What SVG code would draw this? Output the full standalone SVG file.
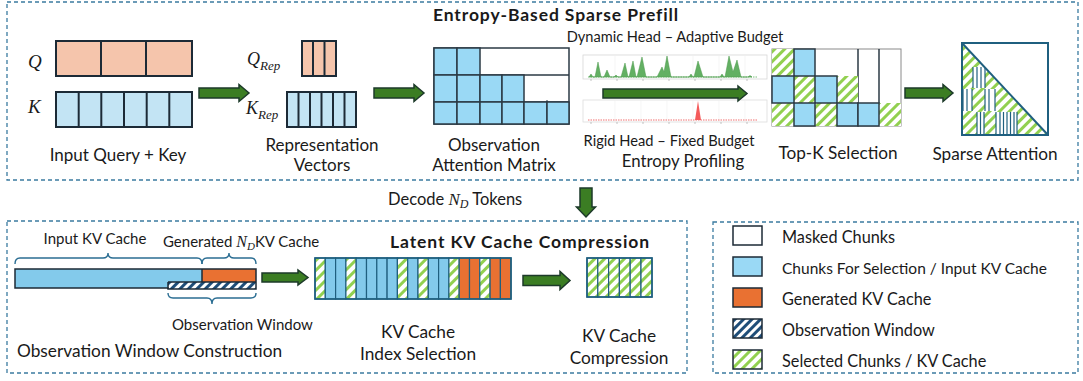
<svg xmlns="http://www.w3.org/2000/svg" width="1083" height="381" viewBox="0 0 1083 381">
  <style>
    .t { font-family: Lato, "Open Sans", sans-serif; fill: #1a1a1a; }
    .b { font-weight: bold; letter-spacing: 0.9px; }
    .m { font-family: "Liberation Serif", "DejaVu Serif", serif; font-style: italic; fill: #1a1a1a; }
    .frame { fill: none; stroke: #3b7ba0; stroke-width: 1.3; stroke-dasharray: 4 3; }
    .arr { fill: #3b7d23; stroke: #1d3a2a; stroke-width: 1.5; stroke-linejoin: miter; }
    .cell { stroke: #1c2a36; stroke-width: 2; }
    .blk { stroke: #2b3a44; stroke-width: 1.5; }
    .kv { stroke: #1f5f7f; stroke-width: 1.2; }
    .brk { fill: none; stroke: #2b6e93; stroke-width: 1.4; }
    .vs { stroke: #1f5f7f; stroke-width: 1.2; }
  </style>
  <defs>
    <pattern id="hatchG" width="7" height="7" patternUnits="userSpaceOnUse" patternTransform="rotate(45)">
      <rect width="7" height="7" fill="#ffffff"/>
      <rect width="3" height="7" fill="#92d050"/>
    </pattern>
    <pattern id="hatchN" width="6" height="6" patternUnits="userSpaceOnUse" patternTransform="rotate(45)">
      <rect width="6" height="6" fill="#ffffff"/>
      <rect width="3" height="6" fill="#1f4e79"/>
    </pattern>
    <clipPath id="lowerTri">
      <polygon points="962,43 962,135 1048,135"/>
    </clipPath>
  </defs>

  <!-- frames -->
  <g id="frames">
    <rect class="frame" x="7" y="2" width="1071" height="178"/>
    <rect class="frame" x="7" y="221" width="680" height="152"/>
    <rect class="frame" x="713" y="222" width="365" height="151"/>
  </g>

  <text class="t b" x="556" y="21" font-size="17.5" text-anchor="middle">Entropy-Based Sparse Prefill</text>

  <!-- input query + key -->
  <g id="input-qk">
    <text class="m" x="28" y="68" font-size="19">Q</text>
    <text class="m" x="28" y="113" font-size="19">K</text>
    <rect class="cell" x="56" y="41" width="136" height="35" fill="#f5c5ac"/>
    <line class="cell" x1="101" y1="41" x2="101" y2="76"/>
    <line class="cell" x1="146" y1="41" x2="146" y2="76"/>
    <rect class="cell" x="56" y="92" width="136" height="35" fill="#c3e4f4"/>
    <line class="cell" x1="78.7" y1="92" x2="78.7" y2="127"/>
    <line class="cell" x1="101.3" y1="92" x2="101.3" y2="127"/>
    <line class="cell" x1="124" y1="92" x2="124" y2="127"/>
    <line class="cell" x1="146.7" y1="92" x2="146.7" y2="127"/>
    <line class="cell" x1="169.3" y1="92" x2="169.3" y2="127"/>
    <text class="t" x="118" y="161" font-size="17" text-anchor="middle">Input Query + Key</text>
  </g>

  <!-- representation vectors -->
  <g id="rep-vectors">
    <text class="m" x="247" y="65" font-size="18">Q<tspan font-size="13" dy="5">Rep</tspan></text>
    <text class="m" x="246" y="114" font-size="18">K<tspan font-size="13" dy="5">Rep</tspan></text>
    <rect class="cell" x="302" y="41" width="34" height="35" fill="#f5c5ac"/>
    <line class="cell" x1="313" y1="41" x2="313" y2="76"/>
    <line class="cell" x1="324.5" y1="41" x2="324.5" y2="76"/>
    <rect class="cell" x="287" y="92" width="69" height="35" fill="#c3e4f4"/>
    <line class="cell" x1="298.5" y1="92" x2="298.5" y2="127"/>
    <line class="cell" x1="310" y1="92" x2="310" y2="127"/>
    <line class="cell" x1="321.5" y1="92" x2="321.5" y2="127"/>
    <line class="cell" x1="333" y1="92" x2="333" y2="127"/>
    <line class="cell" x1="344.5" y1="92" x2="344.5" y2="127"/>
    <text class="t" x="322" y="151" font-size="17" text-anchor="middle">Representation</text>
    <text class="t" x="322" y="171" font-size="17" text-anchor="middle">Vectors</text>
  </g>

  <!-- observation attention matrix -->
  <g id="obs-attn">
    <rect x="434" y="48" width="135" height="76" fill="#ffffff" stroke="#2b3a44" stroke-width="1.5"/>
    <line x1="480" y1="75" x2="569" y2="75" stroke="#2b3a44" stroke-width="1.5"/>
    <line x1="524" y1="102" x2="569" y2="102" stroke="#2b3a44" stroke-width="1.5"/>
    <line x1="547" y1="100" x2="547" y2="104" stroke="#2b3a44" stroke-width="1"/>
    <g fill="#9ad9f5" class="blk">
      <rect x="434" y="48" width="23" height="27"/>
      <rect x="457" y="48" width="23" height="27"/>
      <rect x="434" y="75" width="23" height="27"/>
      <rect x="457" y="75" width="23" height="27"/>
      <rect x="480" y="75" width="22" height="27"/>
      <rect x="502" y="75" width="22" height="27"/>
      <rect x="434" y="102" width="23" height="22"/>
      <rect x="457" y="102" width="23" height="22"/>
      <rect x="480" y="102" width="22" height="22"/>
      <rect x="502" y="102" width="22" height="22"/>
      <rect x="524" y="102" width="23" height="22"/>
      <rect x="547" y="102" width="22" height="22"/>
    </g>
    <text class="t" x="494" y="151" font-size="17" text-anchor="middle">Observation</text>
    <text class="t" x="494" y="171" font-size="17" text-anchor="middle">Attention Matrix</text>
  </g>

  <!-- entropy profiling -->
  <g id="entropy-profiling">
    <text class="t" x="675" y="42" font-size="14.6" text-anchor="middle">Dynamic Head – Adaptive Budget</text>
    <rect x="583" y="55" width="184" height="24" fill="#ffffff" stroke="#d6d6d6" stroke-width="0.8"/>
    <g stroke="#eeeeee" stroke-width="0.6">
      <line x1="615" y1="55" x2="615" y2="79"/>
      <line x1="641" y1="55" x2="641" y2="79"/>
      <line x1="667" y1="55" x2="667" y2="79"/>
      <line x1="693" y1="55" x2="693" y2="79"/>
      <line x1="719" y1="55" x2="719" y2="79"/>
      <line x1="745" y1="55" x2="745" y2="79"/>
    </g>
    <line x1="588" y1="77" x2="757" y2="77" stroke="#7fc07f" stroke-width="1" stroke-dasharray="1.5 1"/>
    <polygon fill="#63b063" stroke="#4a984a" stroke-width="0.5" points="589,77 591,74 593,77 595,77 598,62 601,77 604,77 607,70 610,77 614,77 616,75 618,77 621,77 625,63 628,77 629,77 633,61 636,77 637,77 642,57 646,77 657,77 662,67 664,72 667,56 671,77 689,77 691,74 693,77 694,77 698,61 703,77 720,77 722,74 724,77 725,77 729,56 733,72 737,60 741,77 748,77 750,75.5 752,77"/>
    <g stroke="#9a9a9a" stroke-width="0.6">
      <line x1="591" y1="79" x2="591" y2="81"/>
      <line x1="617" y1="79" x2="617" y2="81"/>
      <line x1="643" y1="79" x2="643" y2="81"/>
      <line x1="669" y1="79" x2="669" y2="81"/>
      <line x1="695" y1="79" x2="695" y2="81"/>
      <line x1="721" y1="79" x2="721" y2="81"/>
      <line x1="747" y1="79" x2="747" y2="81"/>
    </g>
    <rect x="583" y="100" width="184" height="22" fill="#ffffff" stroke="#dddddd" stroke-width="0.8"/>
    <g stroke="#f0f0f0" stroke-width="0.6">
      <line x1="615" y1="100" x2="615" y2="122"/>
      <line x1="641" y1="100" x2="641" y2="122"/>
      <line x1="667" y1="100" x2="667" y2="122"/>
      <line x1="693" y1="100" x2="693" y2="122"/>
      <line x1="719" y1="100" x2="719" y2="122"/>
      <line x1="745" y1="100" x2="745" y2="122"/>
    </g>
    <line x1="588" y1="120" x2="757" y2="120" stroke="#f07070" stroke-width="1" stroke-dasharray="1.5 1"/>
    <polygon fill="#f45a5a" points="695,120 698,101 701,120"/>
    <g stroke="#9a9a9a" stroke-width="0.6">
      <line x1="591" y1="122" x2="591" y2="124"/>
      <line x1="617" y1="122" x2="617" y2="124"/>
      <line x1="643" y1="122" x2="643" y2="124"/>
      <line x1="669" y1="122" x2="669" y2="124"/>
      <line x1="695" y1="122" x2="695" y2="124"/>
      <line x1="721" y1="122" x2="721" y2="124"/>
      <line x1="747" y1="122" x2="747" y2="124"/>
    </g>
    <text class="t" x="669" y="146" font-size="14.7" text-anchor="middle">Rigid Head – Fixed Budget</text>
    <text class="t" x="683" y="167" font-size="16.8" text-anchor="middle">Entropy Profiling</text>
  </g>

  <!-- top-k selection -->
  <g id="topk">
    <rect x="772" y="49" width="129" height="77" fill="#ffffff" stroke="#8a8a8a" stroke-width="1"/>
    <line x1="858" y1="49" x2="858" y2="103" stroke="#2b3a44" stroke-width="1.5"/>
    <line x1="879" y1="49" x2="879" y2="103" stroke="#2b3a44" stroke-width="1.5"/>
    <g fill="url(#hatchG)">
      <rect x="772" y="49" width="22" height="27"/>
      <rect x="794" y="76" width="21" height="27"/>
      <rect x="837" y="76" width="21" height="27"/>
      <rect x="772" y="103" width="22" height="23"/>
      <rect x="815" y="103" width="22" height="23"/>
      <rect x="879" y="103" width="22" height="23"/>
    </g>
    <g fill="#9ad9f5" class="blk">
      <rect x="794" y="49" width="21" height="27"/>
      <rect x="772" y="76" width="22" height="27"/>
      <rect x="815" y="76" width="22" height="27"/>
      <rect x="794" y="103" width="21" height="23"/>
      <rect x="837" y="103" width="21" height="23"/>
      <rect x="858" y="103" width="21" height="23"/>
    </g>
    <text class="t" x="838" y="159" font-size="17.2" text-anchor="middle">Top-K Selection</text>
  </g>

  <!-- sparse attention -->
  <g id="sparse-attn">
    <rect x="962" y="43" width="86" height="92" fill="#ffffff"/>
    <g clip-path="url(#lowerTri)">
      <rect x="962" y="43" width="86" height="92" fill="url(#hatchG)"/>
      <g fill="#ffffff">
        <rect x="973" y="67" width="12" height="21"/>
        <rect x="962" y="89" width="10" height="22"/>
        <rect x="985" y="89" width="10" height="22"/>
        <rect x="977" y="112" width="7" height="23"/>
        <rect x="996" y="112" width="21" height="23"/>
      </g>
      <g class="vs">
        <line x1="973" y1="67" x2="973" y2="88"/>
        <line x1="977" y1="67" x2="977" y2="88"/>
        <line x1="981" y1="67" x2="981" y2="88"/>
        <line x1="985" y1="67" x2="985" y2="88"/>
        <line x1="963" y1="89" x2="963" y2="111"/>
        <line x1="967" y1="89" x2="967" y2="111"/>
        <line x1="972" y1="89" x2="972" y2="111"/>
        <line x1="985" y1="89" x2="985" y2="111"/>
        <line x1="989" y1="89" x2="989" y2="111"/>
        <line x1="995" y1="89" x2="995" y2="111"/>
        <line x1="977" y1="112" x2="977" y2="135"/>
        <line x1="980.5" y1="112" x2="980.5" y2="135"/>
        <line x1="984" y1="112" x2="984" y2="135"/>
        <line x1="996" y1="112" x2="996" y2="135"/>
        <line x1="1000" y1="112" x2="1000" y2="135"/>
        <line x1="1003.5" y1="112" x2="1003.5" y2="135"/>
        <line x1="1007" y1="112" x2="1007" y2="135"/>
        <line x1="1010.5" y1="112" x2="1010.5" y2="135"/>
        <line x1="1014" y1="112" x2="1014" y2="135"/>
        <line x1="1017" y1="112" x2="1017" y2="135"/>
      </g>
    </g>
    <line x1="962" y1="43" x2="1048" y2="135" stroke="#1f5f7f" stroke-width="2"/>
    <rect x="962" y="43" width="86" height="92" fill="none" stroke="#1f5f7f" stroke-width="2"/>
    <text class="t" x="995" y="160" font-size="17.2" text-anchor="middle">Sparse Attention</text>
  </g>

  <text class="t" x="388" y="205" font-size="16.5">Decode <tspan class="m" font-size="17">N</tspan><tspan class="m" font-size="12" dy="3">D</tspan><tspan dy="-3"> Tokens</tspan></text>

  <text class="t b" x="520" y="248" font-size="17.5" text-anchor="middle">Latent KV Cache Compression</text>

  <!-- observation window construction -->
  <g id="obs-window">
    <text class="t" x="95" y="244" font-size="15" text-anchor="middle">Input KV Cache</text>
    <text class="t" x="163" y="247" font-size="15">Generated <tspan class="m" font-size="16">N</tspan><tspan class="m" font-size="11" dy="3">D</tspan><tspan dy="-3">KV Cache</tspan></text>
    <path class="brk" d="M15,264 Q15,258 20,258 L103,258 Q108,258 108,253 Q108,258 113,258 L197,258 Q202,258 202,264"/>
    <path class="brk" d="M202,264 Q202,258 207,258 L224,258 Q229,258 229,253 Q229,258 234,258 L251,258 Q256,258 256,264"/>
    <rect x="15" y="269" width="187" height="19" fill="#83caeb"/>
    <rect x="202" y="269" width="54" height="13" fill="#e97132"/>
    <rect x="168" y="282" width="88" height="7" fill="url(#hatchN)"/>
    <path d="M15,269 H256 V289 H168 V288 H15 Z" fill="none" stroke="#1c2a36" stroke-width="1.5"/>
    <line x1="168" y1="282" x2="256" y2="282" stroke="#1c2a36" stroke-width="1.5"/>
    <line x1="202" y1="269" x2="202" y2="282" stroke="#1c2a36" stroke-width="1.5"/>
    <line x1="168" y1="282" x2="168" y2="289" stroke="#1c2a36" stroke-width="1.5"/>
    <path class="brk" d="M168,293 Q168,298 173,298 L207,298 Q212,298 212,304 Q212,298 217,298 L251,298 Q256,298 256,293"/>
    <text class="t" x="172" y="330" font-size="15">Observation Window</text>
    <text class="t" x="17" y="357" font-size="17.3">Observation Window Construction</text>
  </g>

  <!-- kv cache index selection -->
  <g id="kv-index">
    <g class="kv">
      <rect x="315" y="258" width="10.3" height="41" fill="url(#hatchG)"/>
      <rect x="325.3" y="258" width="10.3" height="41" fill="#83caeb"/>
      <rect x="335.6" y="258" width="10.3" height="41" fill="#83caeb"/>
      <rect x="345.9" y="258" width="10.3" height="41" fill="url(#hatchG)"/>
      <rect x="356.2" y="258" width="10.3" height="41" fill="#83caeb"/>
      <rect x="366.5" y="258" width="10.3" height="41" fill="#83caeb"/>
      <rect x="376.8" y="258" width="10.3" height="41" fill="#83caeb"/>
      <rect x="387.1" y="258" width="10.3" height="41" fill="#83caeb"/>
      <rect x="397.4" y="258" width="10.3" height="41" fill="url(#hatchG)"/>
      <rect x="407.7" y="258" width="10.3" height="41" fill="#83caeb"/>
      <rect x="418" y="258" width="10.3" height="41" fill="url(#hatchG)"/>
      <rect x="428.3" y="258" width="10.3" height="41" fill="#83caeb"/>
      <rect x="438.6" y="258" width="10.3" height="41" fill="#83caeb"/>
      <rect x="448.9" y="258" width="10.3" height="41" fill="url(#hatchG)"/>
      <rect x="459.2" y="258" width="10.3" height="41" fill="#e97132"/>
      <rect x="469.5" y="258" width="10.3" height="41" fill="#e97132"/>
      <rect x="479.8" y="258" width="10.3" height="41" fill="url(#hatchG)"/>
      <rect x="490.1" y="258" width="10.3" height="41" fill="#e97132"/>
      <rect x="500.4" y="258" width="10.6" height="41" fill="#e97132"/>
    </g>
    <rect x="315" y="258" width="196" height="41" fill="none" stroke="#1f5f7f" stroke-width="1.6"/>
    <text class="t" x="418" y="338" font-size="17.3" text-anchor="middle">KV Cache</text>
    <text class="t" x="418" y="360" font-size="17.3" text-anchor="middle">Index Selection</text>
  </g>

  <!-- kv cache compression -->
  <g id="kv-compress">
    <g class="kv" fill="url(#hatchG)">
      <rect x="587" y="258" width="10.8" height="39"/>
      <rect x="597.8" y="258" width="10.8" height="39"/>
      <rect x="608.6" y="258" width="10.8" height="39"/>
      <rect x="619.4" y="258" width="10.8" height="39"/>
      <rect x="630.2" y="258" width="10.8" height="39"/>
      <rect x="641" y="258" width="11" height="39"/>
    </g>
    <rect x="587" y="258" width="65" height="39" fill="none" stroke="#1f5f7f" stroke-width="1.6"/>
    <text class="t" x="619" y="342" font-size="17.3" text-anchor="middle">KV Cache</text>
    <text class="t" x="619" y="364" font-size="17.3" text-anchor="middle">Compression</text>
  </g>

  <!-- legend -->
  <g id="legend">
    <g stroke="#1c2a36" stroke-width="1.5">
      <rect x="733" y="226" width="29" height="19" fill="#ffffff"/>
      <rect x="733" y="257" width="29" height="19" fill="#9ad9f5"/>
      <rect x="733" y="288" width="29" height="19" fill="#e97132"/>
      <rect x="733" y="319" width="29" height="19" fill="url(#hatchN)"/>
      <rect x="733" y="350" width="29" height="19" fill="url(#hatchG)"/>
    </g>
    <text class="t" x="782" y="243" font-size="16.3">Masked Chunks</text>
    <text class="t" x="782" y="274" font-size="15.5">Chunks For Selection / Input KV Cache</text>
    <text class="t" x="782" y="305" font-size="16.3">Generated KV Cache</text>
    <text class="t" x="782" y="336" font-size="16.3">Observation Window</text>
    <text class="t" x="782" y="367" font-size="16.3">Selected Chunks / KV Cache</text>
  </g>

  <!-- connectors -->
  <g id="connectors">
    <path class="arr" d="M199,88 H239 V84.5 L249,93 L239,101.5 V98 H199 Z"/>
    <path class="arr" d="M374,88 H414 V84.5 L424,93 L414,101.5 V98 H374 Z"/>
    <path class="arr" d="M603,89 H738 V86 L747,93.5 L738,101 V98 H603 Z"/>
    <path class="arr" d="M905,88 H943 V84.5 L953,93 L943,101.5 V98 H905 Z"/>
    <path class="arr" d="M580,188 H592 V207 H595.5 L586,217 L576.5,207 H580 Z"/>
    <path class="arr" d="M262,273 H298 V270 L308,277.5 L298,285 V282 H262 Z"/>
    <path class="arr" d="M523,275.5 H560 V271.5 L570,280.5 L560,289.5 V285.5 H523 Z"/>
  </g>
</svg>
